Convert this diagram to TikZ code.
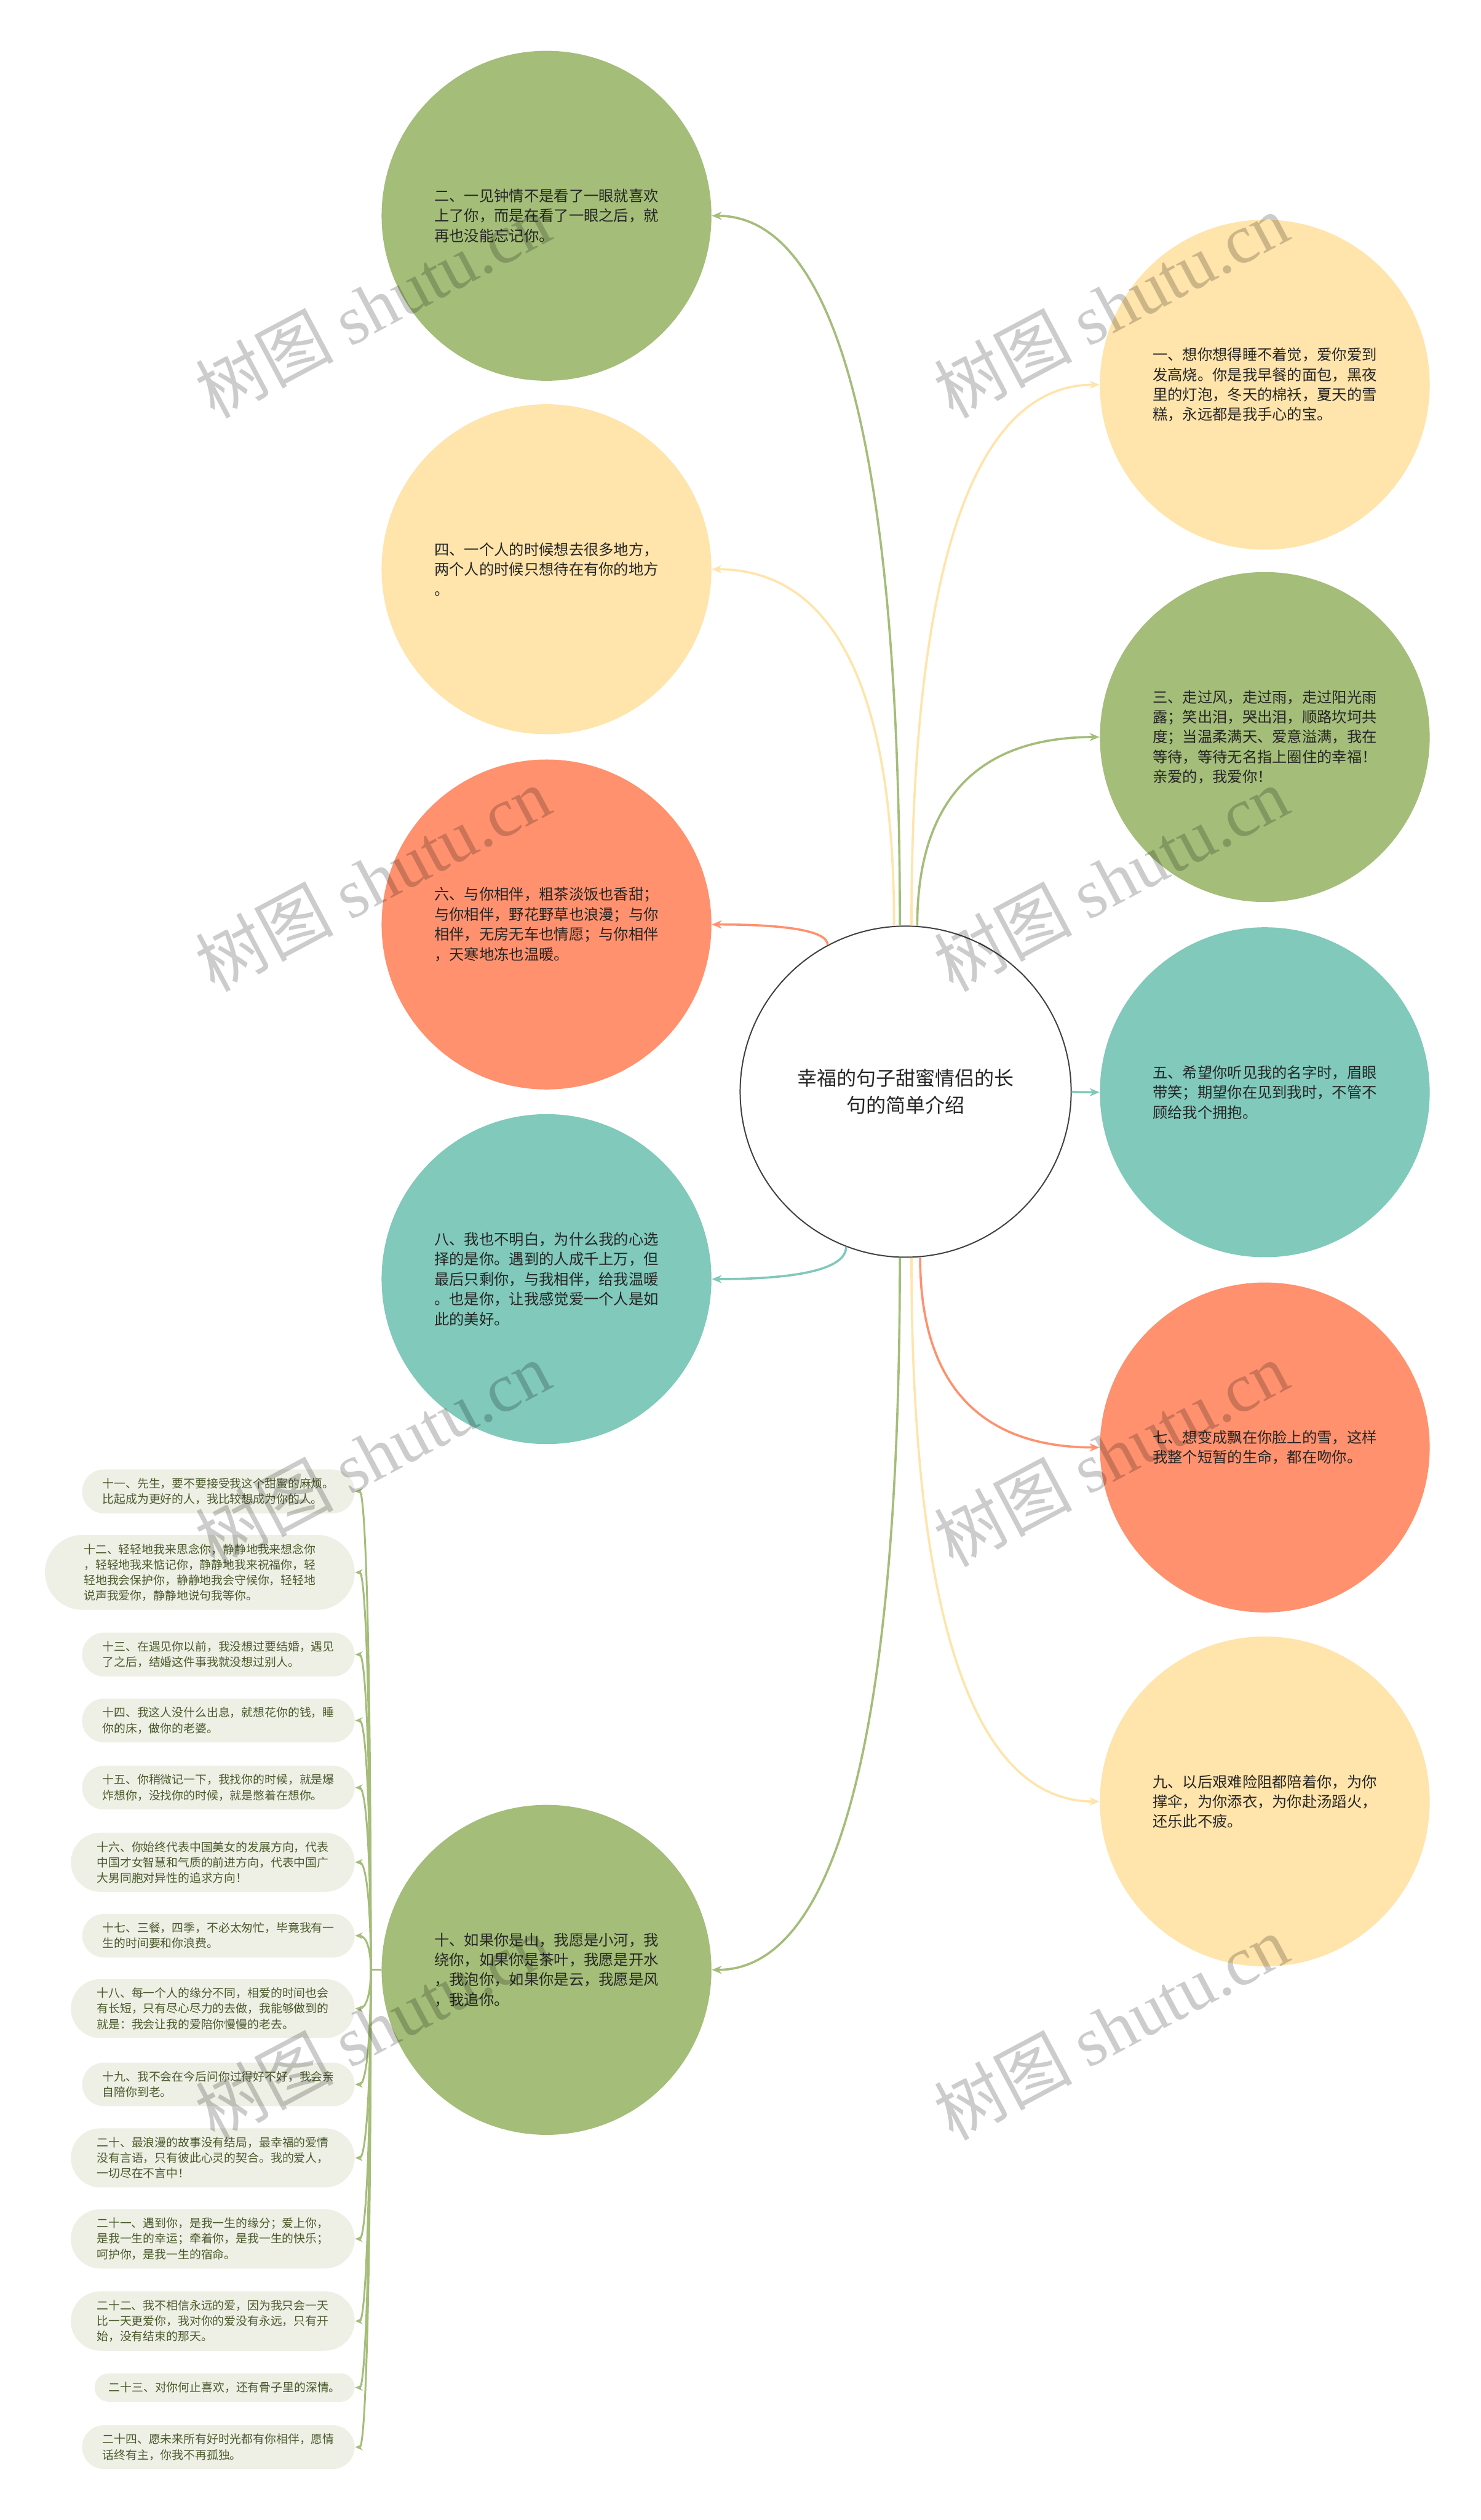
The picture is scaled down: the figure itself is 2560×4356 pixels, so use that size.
\documentclass[tikz,border=0pt]{standalone}
\usepackage{fontspec}
\setmainfont{Noto Sans CJK SC}
\newfontfamily\wmlatin{Liberation Serif}
\usetikzlibrary{arrows.meta,shapes.misc,calc}

\definecolor{leafgreen}{HTML}{A4BD79}
\definecolor{leafyellow}{HTML}{FFE4AB}
\definecolor{leaforange}{HTML}{FF916E}
\definecolor{leafteal}{HTML}{80C9BB}
\definecolor{pillfill}{HTML}{EEF0E5}
\definecolor{pilltext}{HTML}{4B5A2C}

\tikzset{
  root/.style={circle, draw=black!75, line width=0.6pt, fill=white, minimum size=5.72cm,
    inner sep=0pt, align=center, text=black!85, font=\fontsize{9.7pt}{13.4pt}\selectfont},
  leaf/.style={circle, fill=#1, minimum size=5.70cm, inner sep=0pt, align=left,
    text=black!85, font=\fontsize{7.35pt}{9.8pt}\selectfont},
  pill/.style={rounded rectangle, fill=pillfill, inner xsep=#1, inner ysep=0.15cm,
    align=left, anchor=east, text=pilltext, font=\fontsize{5.7pt}{7.6pt}\selectfont},
  pill/.default=0.275cm,
  link/.style={draw=#1, line width=1.1pt, -{Stealth[length=0.17cm,width=0.14cm]}},
  sublink/.style={draw=leafgreen, line width=0.9pt, -{Stealth[length=0.13cm,width=0.11cm]}},
  wmark/.style={rotate=28, text=black, text opacity=0.2, font=\fontsize{34pt}{34pt}\selectfont}
}

\begin{document}
\begin{tikzpicture}[x=0.01cm, y=-0.01cm]
\useasboundingbox (0,0) rectangle (2560,4356);
\fill[white] (0,0) rectangle (2560,4356);

% ===== centre =====
\node[root] (root) at (1566,1887) {幸福的句子甜蜜情侣的长\\句的简单介绍};

% ===== left column =====
\node[leaf=leafgreen] (c2) at (945,373) {二、一见钟情不是看了一眼就喜欢\\上了你，而是在看了一眼之后，就\\再也没能忘记你。};
\node[leaf=leafyellow] (c4) at (945,984) {四、一个人的时候想去很多地方，\\两个人的时候只想待在有你的地方\\。};
\node[leaf=leaforange] (c6) at (945,1598) {六、与你相伴，粗茶淡饭也香甜；\\与你相伴，野花野草也浪漫；与你\\相伴，无房无车也情愿；与你相伴\\，天寒地冻也温暖。};
\node[leaf=leafteal] (c8) at (945,2211) {八、我也不明白，为什么我的心选\\择的是你。遇到的人成千上万，但\\最后只剩你，与我相伴，给我温暖\\。也是你，让我感觉爱一个人是如\\此的美好。};
\node[leaf=leafgreen] (c10) at (945,3405) {十、如果你是山，我愿是小河，我\\绕你，如果你是茶叶，我愿是开水\\，我泡你，如果你是云，我愿是风\\，我追你。};

% ===== right column =====
\node[leaf=leafyellow] (c1) at (2187,665) {一、想你想得睡不着觉，爱你爱到\\发高烧。你是我早餐的面包，黑夜\\里的灯泡，冬天的棉袄，夏天的雪\\糕，永远都是我手心的宝。};
\node[leaf=leafgreen] (c3) at (2187,1274) {三、走过风，走过雨，走过阳光雨\\露；笑出泪，哭出泪，顺路坎坷共\\度；当温柔满天、爱意溢满，我在\\等待，等待无名指上圈住的幸福！\\亲爱的，我爱你！};
\node[leaf=leafteal] (c5) at (2187,1888) {五、希望你听见我的名字时，眉眼\\带笑；期望你在见到我时，不管不\\顾给我个拥抱。};
\node[leaf=leaforange] (c7) at (2187,2502) {七、想变成飘在你脸上的雪，这样\\我整个短暂的生命，都在吻你。};
\node[leaf=leafyellow] (c9) at (2187,3114) {九、以后艰难险阻都陪着你，为你\\撑伞，为你添衣，为你赴汤蹈火，\\还乐此不疲。};

% ===== links from the centre =====
\foreach \a/\d/\c in {92/c2.east/leafgreen, 94/c4.east/leafyellow, 118/c6.east/leaforange,
    249/c8.east/leafteal, 268/c10.east/leafgreen, 88/c1.west/leafyellow, 86/c3.west/leafgreen,
    0/c5.west/leafteal, 275/c7.west/leaforange, 272/c9.west/leafyellow} {
  \draw[link=\c] (root.\a) .. controls ($(root.\a)!.667!(root.\a |- \d)$)
    and ($(\d)!.667!(root.\a |- \d)$) .. (\d);
}

% ===== sub list of ten =====
\node[pill] (s11) at (614,2578) {十一、先生，要不要接受我这个甜蜜的麻烦。\\比起成为更好的人，我比较想成为你的人。};
\node[pill=0.44cm] (s12) at (614,2718) {十二、轻轻地我来思念你，静静地我来想念你\\，轻轻地我来惦记你，静静地我来祝福你，轻\\轻地我会保护你，静静地我会守候你，轻轻地\\说声我爱你，静静地说句我等你。};
\node[pill] (s13) at (614,2860) {十三、在遇见你以前，我没想过要结婚，遇见\\了之后，结婚这件事我就没想过别人。};
\node[pill] (s14) at (614,2974) {十四、我这人没什么出息，就想花你的钱，睡\\你的床，做你的老婆。};
\node[pill] (s15) at (614,3090) {十五、你稍微记一下，我找你的时候，就是爆\\炸想你，没找你的时候，就是憋着在想你。};
\node[pill=0.3cm] (s16) at (614,3219) {十六、你始终代表中国美女的发展方向，代表\\中国才女智慧和气质的前进方向，代表中国广\\大男同胞对异性的追求方向！};
\node[pill] (s17) at (614,3346) {十七、三餐，四季，不必太匆忙，毕竟我有一\\生的时间要和你浪费。};
\node[pill=0.3cm] (s18) at (614,3472) {十八、每一个人的缘分不同，相爱的时间也会\\有长短，只有尽心尽力的去做，我能够做到的\\就是：我会让我的爱陪你慢慢的老去。};
\node[pill] (s19) at (614,3603) {十九、我不会在今后问你过得好不好，我会亲\\自陪你到老。};
\node[pill=0.3cm] (s20) at (614,3730) {二十、最浪漫的故事没有结局，最幸福的爱情\\没有言语，只有彼此心灵的契合。我的爱人，\\一切尽在不言中！};
\node[pill=0.3cm] (s21) at (614,3870) {二十一、遇到你，是我一生的缘分；爱上你，\\是我一生的幸运；牵着你，是我一生的快乐；\\呵护你，是我一生的宿命。};
\node[pill=0.3cm] (s22) at (614,4012) {二十二、我不相信永远的爱，因为我只会一天\\比一天更爱你，我对你的爱没有永远，只有开\\始，没有结束的那天。};
\node[pill=0.225cm] (s23) at (614,4127) {二十三、对你何止喜欢，还有骨子里的深情。};
\node[pill] (s24) at (614,4230) {二十四、愿未来所有好时光都有你相伴，愿情\\话终有主，你我不再孤独。};

\coordinate (hub) at ($(c10.west)+(-18,0)$);
\draw[leafgreen, line width=0.9pt] (c10.west) -- (hub);
\foreach \n in {11,...,24} {
  \draw[sublink] (hub) .. controls ($(hub)!.667!(hub |- s\n.east)$)
    and ($(s\n.east)!.667!(hub |- s\n.east)$) .. (s\n.east);
}

% ===== watermark =====
\foreach \wx in {644,1921} {
  \foreach \wy in {528,1519,2513,3504} {
    \node[wmark] (wm-\wx-\wy) at (\wx,\wy) {树图 {\wmlatin shutu.cn}};
  }
}

\end{tikzpicture}
\end{document}
